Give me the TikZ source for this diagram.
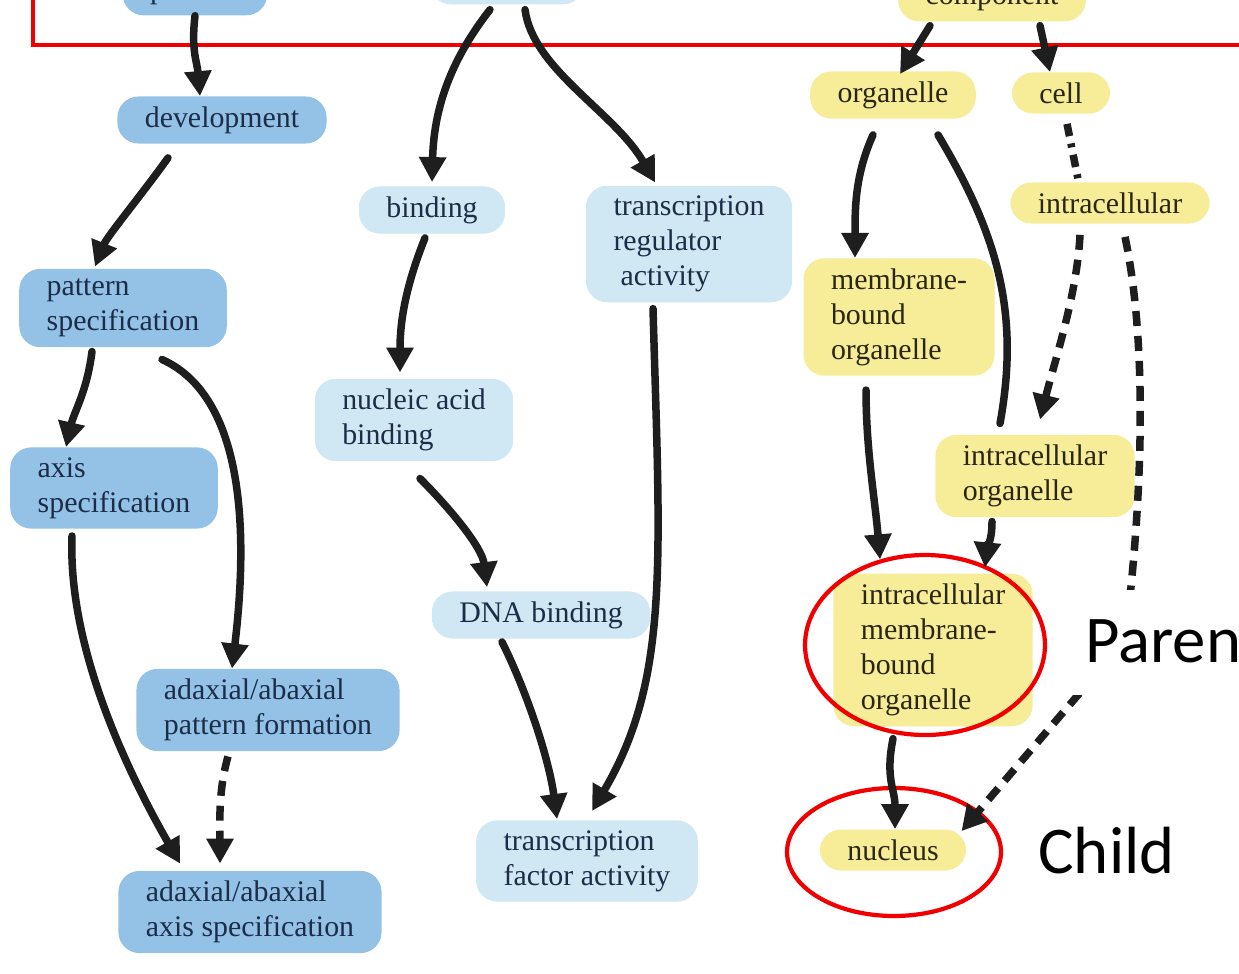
\documentclass[tikz,border=0pt]{standalone}
\usepackage{fontspec}
\setmainfont{Liberation Serif}
\newfontfamily\etiqfont{Carlito}
\usetikzlibrary{arrows.meta,calc}
\definecolor{procazul}{RGB}{148,194,231}
\definecolor{funcazul}{RGB}{208,231,244}
\definecolor{compamar}{RGB}{247,236,152}
\definecolor{textoazul}{RGB}{28,45,72}
\definecolor{textoamar}{RGB}{42,38,18}
\definecolor{flecha}{RGB}{30,30,30}
\definecolor{rojo}{RGB}{240,0,0}

\begin{document}
\begin{tikzpicture}[x=0.02cm, y=-0.02cm,
  >={Triangle[length=0.5cm,width=0.52cm]},
  caja/.style={rounded corners=12pt, align=left, inner xsep=0.55cm, inner ysep=0.2cm,
    font=\fontsize{17}{20}\selectfont},
  proc/.style={caja, fill=procazul, text=textoazul},
  func/.style={caja, fill=funcazul, text=textoazul},
  comp/.style={caja, fill=compamar, text=textoamar},
  flec/.style={->, draw=flecha, line width=0.15cm, line cap=round},
  discont/.style={flec, line cap=butt, dash pattern=on 0.3cm off 0.2cm},
  punteado/.style={draw=flecha, line width=0.15cm, dash pattern=on 0.25cm off 0.15cm on 0.08cm off 0.15cm},
  marca/.style={draw=rojo, line width=2.4pt},
  etiq/.style={font=\etiqfont\fontsize{38}{40}\selectfont, inner sep=0pt}]

  % Marco de la figura (recortado)
  \useasboundingbox (0,0) rectangle (1239,973);
  \clip (0,0) rectangle (1239,973);
  \fill[white] (0,0) rectangle (1239,973);

  % Nodos superiores, cortados por el borde
  \node[proc, anchor=base] (proceso) at (195,-1) {process};
  \node[func, anchor=base] (funcion) at (507,-6) {\phantom{function}};
  \node[comp, anchor=base] (componente) at (992,5) {component};

  % Procesos biologicos
  \node[proc] (desarrollo) at (222,120) {development};
  \node[proc] (patron) at (123,308) {pattern\\specification};
  \node[proc] (eje) at (114,488) {axis\\specification};
  \node[proc] (adpatron) at (268,710) {adaxial/abaxial\\pattern formation};
  \node[proc] (adeje) at (250,912) {adaxial/abaxial\\axis specification};

  % Funciones moleculares
  \node[func] (union) at (432,210) {binding};
  \node[func] (regulador) at (689,244) {transcription\\regulator\\\hspace{0.14cm}activity};
  \node[func] (nucleico) at (414,420) {nucleic acid\\binding};
  \node[func] (adn) at (541,615) {DNA binding};
  \node[func] (factor) at (587,861) {transcription\\factor activity};

  % Componentes celulares
  \node[comp] (organelo) at (893,95) {organelle};
  \node[comp] (celula) at (1061,93) {cell};
  \node[comp] (intra) at (1110,203) {intracellular};
  \node[comp] (membrana) at (899,317) {membrane-\\bound\\organelle};
  \node[comp] (intraorg) at (1035,476) {intracellular\\organelle};
  \node[comp] (intramem) at (933,650) {intracellular\\membrane-\\bound\\organelle};
  \node[comp] (nucleo) at (893,850) {nucleus};

  % Marcas rojas
  \draw[marca] (33,-10) -- (33,45) -- (1250,45);
  \draw[marca] (925,645) ellipse [x radius=2.4cm, y radius=1.8cm];
  \draw[marca] (894,852) ellipse [x radius=2.14cm, y radius=1.28cm];

  % Flechas de procesos
  \draw[flec] (proceso.south) .. controls +(-4,35) and +(-3,-35) .. ($(desarrollo.north)+(-22,0)$);
  \draw[flec] ($(desarrollo.south)+(-54,14)$) .. controls +(-25,35) and +(12,-30) .. ($(patron.north)+(-28,-2)$);
  \draw[flec] ($(patron.south)+(-31,4)$) .. controls +(-5,40) and +(8,-35) .. ($(eje.north)+(-48,0)$);
  \draw[flec] ($(patron.south)+(39,12)$) .. controls +(78,35) and +(18,-150) .. ($(adpatron.north)+(-36,0)$);
  \draw[flec] ($(eje.south)+(-42,7)$) .. controls +(-4,105) and +(-60,-105) .. ($(adeje.north)+(-70,-7)$);
  \draw[discont] ($(adpatron.south)+(-40,5)$) .. controls +(-10,35) and +(0,-40) .. ($(adeje.north)+(-30,-7)$);

  % Flechas de funciones
  \draw[flec] ($(funcion.south)+(-17,5)$) .. controls +(-35,45) and +(2,-80) .. ($(union.north)+(0,-4)$);
  \draw[flec] ($(funcion.south)+(18,5)$) .. controls +(8,60) and +(-40,-70) .. ($(regulador.north)+(-34,-3)$);
  \draw[flec] ($(union.south)+(-7,4)$) .. controls +(-20,50) and +(0,-50) .. ($(nucleico.north)+(-14,-6)$);
  \draw[flec] ($(nucleico.south)+(6,17)$) .. controls +(30,30) and +(-5,-40) .. ($(adn.north)+(-54,-4)$);
  \draw[flec] ($(adn.south)+(-39,3)$) .. controls +(25,50) and +(-8,-60) .. ($(factor.north)+(-30,-1)$);
  \draw[flec] ($(regulador.south)+(-36,6)$) .. controls +(7,252) and +(78,-132) .. ($(factor.north)+(5,-9)$);

  % Flechas de componentes
  \draw[flec] ($(componente.south)+(-62,4)$) -- ($(organelo.north)+(7,3)$);
  \draw[flec] ($(componente.south)+(48,4)$) -- ($(celula.north)+(-11,0)$);
  \draw[flec] ($(organelo.south)+(-20,16)$) .. controls +(-18,40) and +(0,-50) .. ($(membrana.north)+(-44,0)$);
  \draw[flec, -] ($(organelo.south)+(45,16)$) .. controls +(60,100) and +(20,-110) .. ($(intraorg.north)+(-35,-11)$);
  \draw[punteado] ($(celula.south)+(6,10)$) -- ($(intra.north)+(-32,-3)$);
  \draw[discont] ($(intra.south)+(-30,11)$) .. controls +(-3,60) and +(15,-60) .. ($(intraorg.north)+(5,-15)$);
  \coordinate (giro) at (1125,640);
  \draw[discont] ($(intra.south)+(15,13)$) .. controls +(25,120) and +(15,-120) .. (giro) -- ($(nucleo.north east)+(-5,2)$);
  \draw[flec] ($(membrana.south)+(-33,14)$) .. controls +(0,60) and +(-5,-60) .. ($(intramem.north)+(-53,-14)$);
  \draw[flec] ($(intraorg.south)+(-43,4)$) .. controls +(0,20) and +(2,-20) .. ($(intramem.north)+(52,-6)$);
  \draw[flec] ($(intramem.south)+(-40,12)$) .. controls +(-8,40) and +(0,-40) .. ($(nucleo.north)+(2,0)$);

  % Etiquetas
  \node[etiq, fill=white, anchor=base west, inner xsep=0.3cm, text height=1.44cm, text depth=0.66cm] (padre) at (1070,662) {Paren};
  \node[etiq, anchor=base west] (hijo) at (1038,873) {Child};
\end{tikzpicture}
\end{document}
